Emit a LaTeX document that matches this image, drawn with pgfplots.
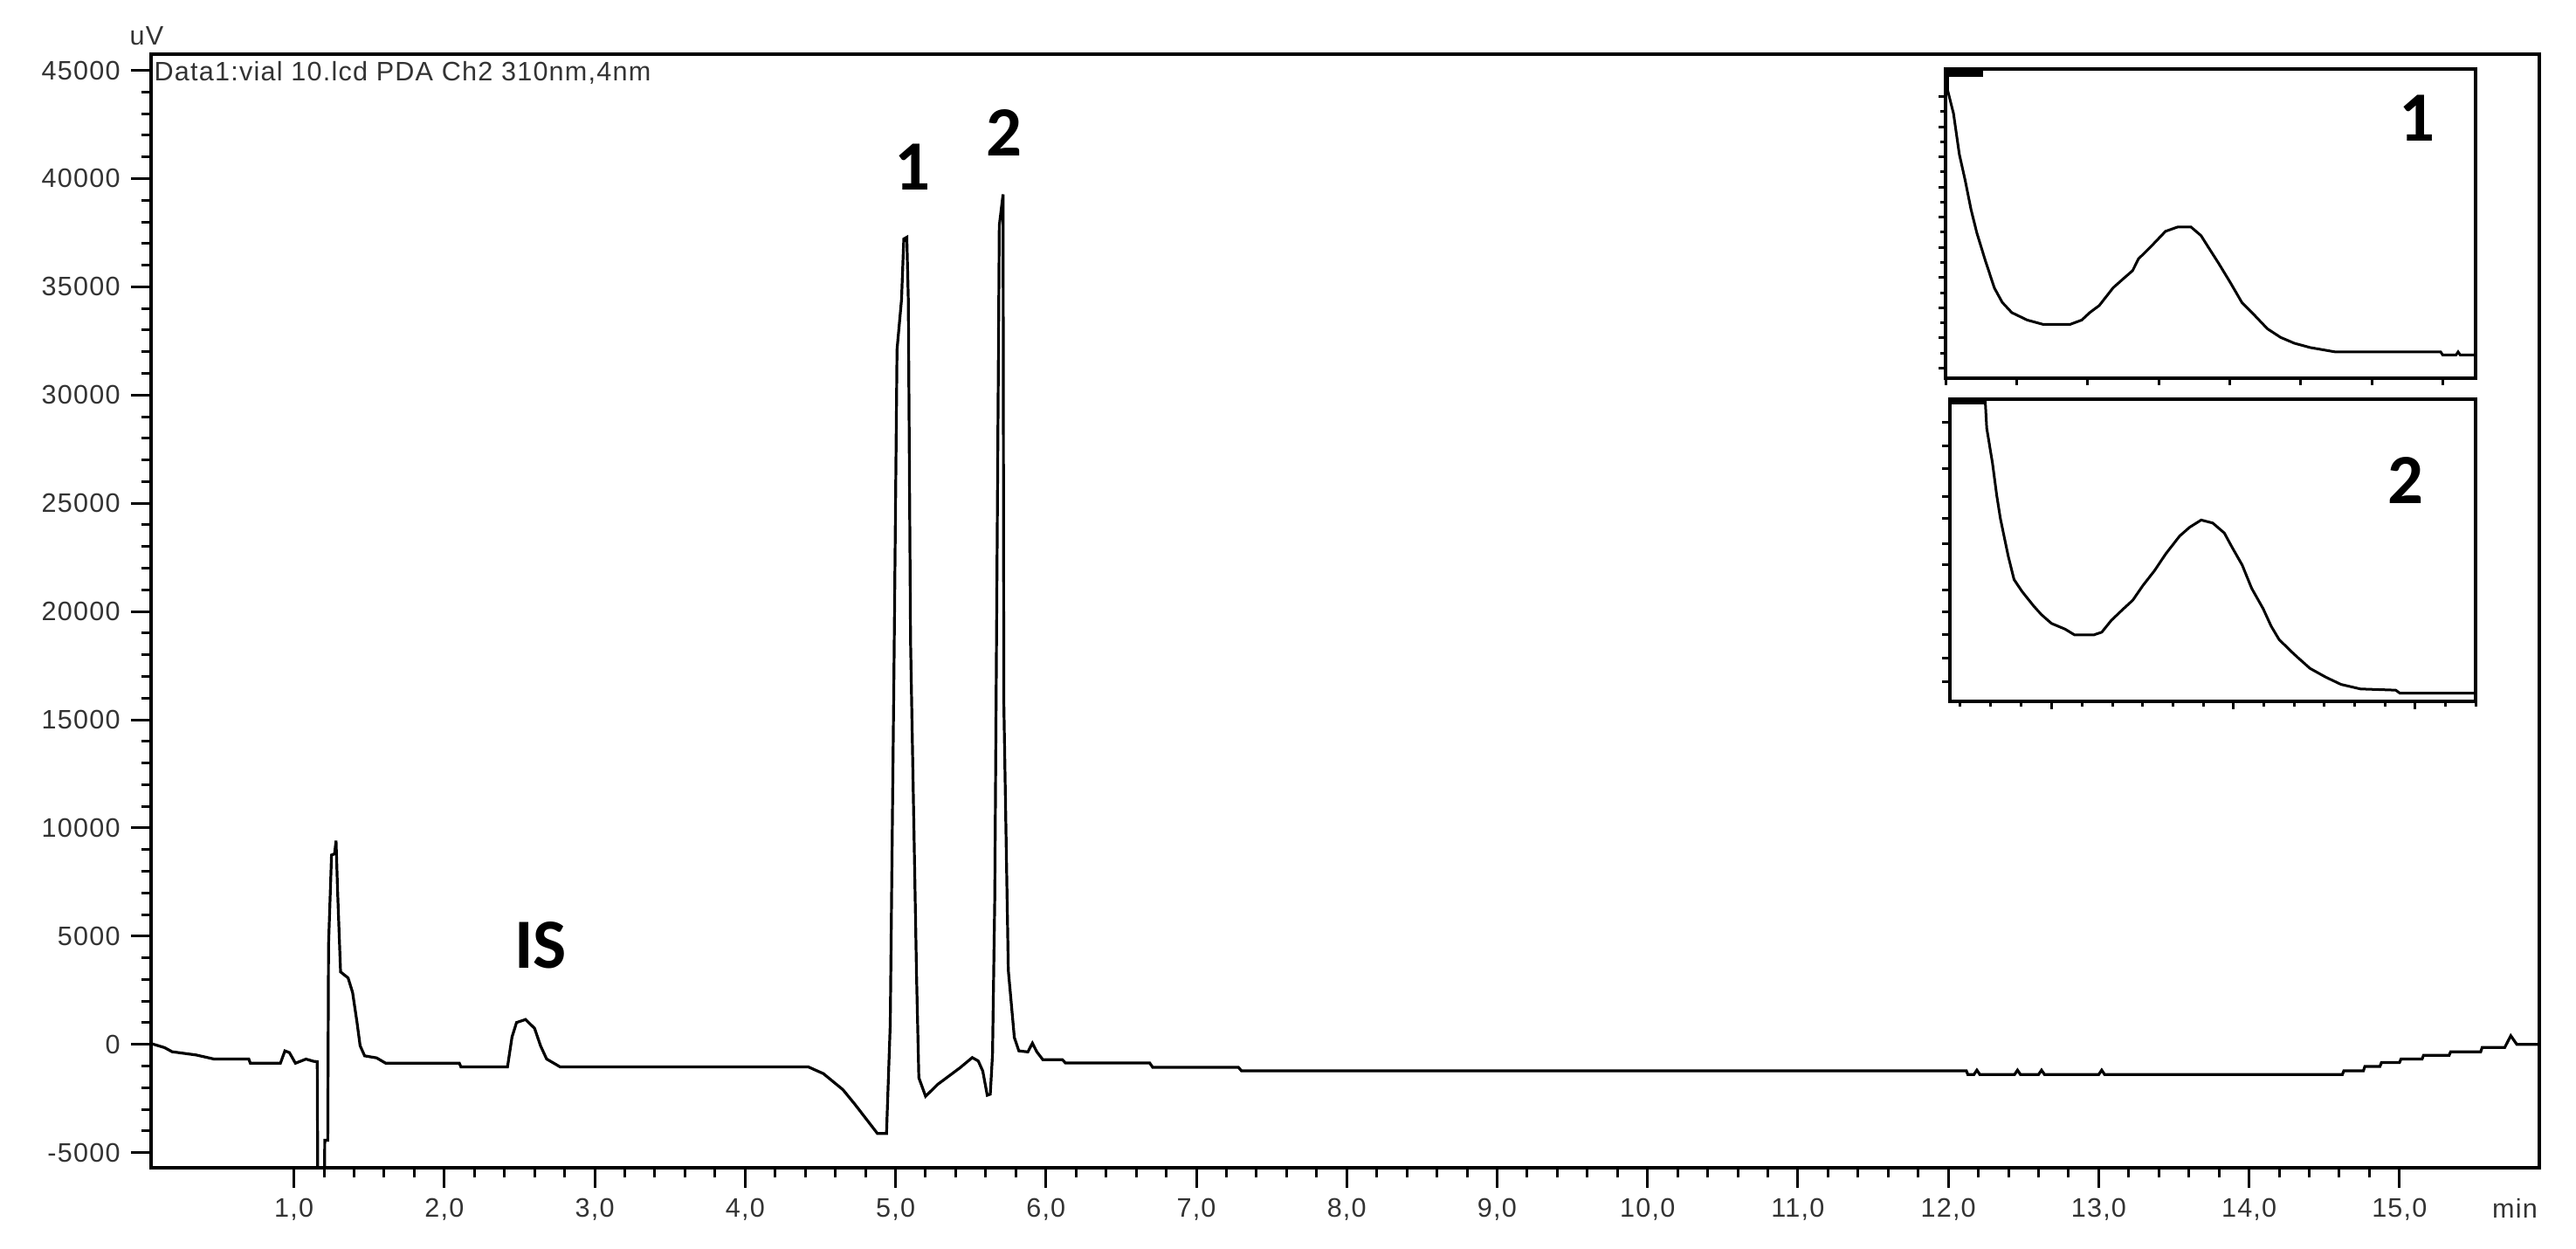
\documentclass[border=0pt]{standalone}
\usepackage{fontspec}
\setmainfont{Liberation Sans}
\newfontfamily\tickfamily[LetterSpace=4]{Liberation Sans}
\newfontfamily\lblfamily{Carlito}
\usepackage{pgfplots}
\pgfplotsset{compat=1.18}
\newcommand{\tickfont}{\tickfamily\fontsize{8.7}{10}\selectfont}
\newcommand{\pkfont}{\lblfamily\bfseries\fontsize{23}{26}\selectfont}

\begin{document}
\begin{tikzpicture}[x=1mm,y=1mm]
\path[use as bounding box] (0,0) rectangle (295,143);

% main chromatogram
\begin{axis}[
  name=main, at={(17.3mm,9.3mm)}, anchor=south west,
  scale only axis, width=273.5mm, height=127.5mm,
  xmin=0.05, xmax=15.93, ymin=-5700, ymax=45750,
  xtick={1,...,15}, ytick={-5000,0,...,45000},
  minor x tick num=4, minor y tick num=4,
  tick align=outside, xtick pos=bottom, ytick pos=left,
  major tick length=2.3mm, minor tick length=1.15mm,
  axis line style={line width=0.4mm},
  every tick/.style={black, line width=0.3mm},
  scaled ticks=false,
  /pgf/number format/assume math mode=true,
  tick label style={font=\tickfont, text=black!80},
  x tick label style={/pgf/number format/.cd, use comma, fixed, fixed zerofill, precision=1},
  y tick label style={/pgf/number format/.cd, fixed, precision=0, 1000 sep={}},
]
\addplot[black, line width=0.32mm, sharp plot] coordinates {
(0.05,40) (0.14,-150) (0.19,-340) (0.35,-490) (0.47,-680) (0.70,-680) (0.71,-870)
(0.91,-870) (0.94,-300) (0.97,-380) (1.01,-870) (1.08,-680) (1.13,-780) (1.155,-800)
(1.16,-9000) (1.20,-9000) (1.205,-4430) (1.225,-4430) (1.23,4580) (1.25,8750)
(1.27,8800) (1.28,9410) (1.29,7140) (1.31,3350) (1.36,3070) (1.39,2400) (1.42,985)
(1.44,-60) (1.47,-530) (1.55,-625) (1.61,-870) (2.10,-870) (2.11,-1040) (2.42,-1040)
(2.45,340) (2.48,1010) (2.54,1150) (2.60,740) (2.64,-70) (2.68,-675) (2.77,-1040)
(4.42,-1040) (4.52,-1350) (4.65,-2090) (4.73,-2770) (4.82,-3580) (4.88,-4120)
(4.94,-4120) (4.965,940) (4.99,17520) (5.01,32100) (5.04,34420) (5.055,37210)
(5.075,37290) (5.085,34420) (5.10,18610) (5.14,3110) (5.155,-1540) (5.20,-2400)
(5.28,-1850) (5.43,-1075) (5.51,-610) (5.55,-765) (5.58,-1230) (5.61,-2350)
(5.63,-2300) (5.645,-455) (5.66,6830) (5.69,37830) (5.715,39270) (5.72,15820)
(5.75,3420) (5.79,320) (5.82,-300) (5.88,-347) (5.91,56) (5.94,-350) (5.98,-710)
(6.11,-710) (6.13,-858) (6.69,-858) (6.71,-1060) (7.28,-1060) (7.30,-1221)
(12.12,-1221) (12.13,-1396) (12.17,-1396) (12.19,-1190) (12.21,-1396) (12.44,-1396)
(12.46,-1190) (12.48,-1396) (12.60,-1396) (12.62,-1190) (12.64,-1396) (13.00,-1396)
(13.02,-1190) (13.04,-1396) (14.62,-1396) (14.63,-1220) (14.76,-1220) (14.77,-1018)
(14.87,-1018) (14.88,-840) (15.00,-840) (15.01,-680) (15.15,-680) (15.16,-505)
(15.33,-505) (15.34,-343) (15.54,-343) (15.55,-140) (15.70,-140) (15.74,400)
(15.78,0) (15.93,0)
};
\node[font=\pkfont] at (axis cs:2.64,4560) {IS};
\node[font=\pkfont] at (axis cs:5.11,40520) {1};
\node[font=\pkfont] at (axis cs:5.72,42130) {2};
\end{axis}

\node[font=\tickfont, text=black!80] at (16.8,138.9) {uV};
\node[font=\tickfont, text=black!80, anchor=north west, inner sep=0]
  at ([xshift=0.3mm, yshift=-0.8mm]main.north west) {Data1:vial 10.lcd PDA Ch2 310nm,4nm};
\node[font=\tickfont, text=black!80, anchor=north, inner sep=0.333em]
  at ([xshift=270.7mm, yshift=-2.3mm]main.south west) {min};

% inset spectrum of peak 1
\begin{axis}[
  at={(222.8mm,99.7mm)}, anchor=south west,
  scale only axis, width=60.7mm, height=35.4mm,
  xmin=0, xmax=1, ymin=0, ymax=1,
  axis line style={line width=0.35mm},
  tick align=outside, xtick pos=bottom, ytick pos=left,
  xtick={0,0.134,0.268,0.402,0.536,0.67,0.804,0.938},
  ytick={0.033,0.1305,0.228,0.3255,0.423,0.5205,0.618,0.7155,0.813,0.9105},
  minor y tick num=1,
  major tick length=0.8mm, minor tick length=0.6mm,
  every tick/.style={black, line width=0.3mm},
  xticklabels={}, yticklabels={},
]
\addplot[black, line width=0.3mm, sharp plot] coordinates {
(0.004,1.0) (0.004,0.931) (0.015,0.856) (0.026,0.724) (0.037,0.64) (0.048,0.546)
(0.059,0.47) (0.074,0.386) (0.092,0.292) (0.107,0.245) (0.125,0.212) (0.154,0.188)
(0.184,0.174) (0.235,0.174) (0.257,0.188) (0.272,0.212) (0.29,0.235) (0.316,0.292)
(0.331,0.315) (0.353,0.348) (0.364,0.386) (0.386,0.423) (0.415,0.475) (0.438,0.489)
(0.463,0.489) (0.482,0.461) (0.496,0.423) (0.515,0.372) (0.537,0.31) (0.559,0.245)
(0.581,0.207) (0.607,0.16) (0.632,0.132) (0.658,0.113) (0.688,0.099) (0.735,0.085)
(0.934,0.085) (0.938,0.075) (0.963,0.075) (0.967,0.085) (0.971,0.075) (1.0,0.075)
};
\fill[black] (rel axis cs:0,0.975) rectangle (rel axis cs:0.07,1);
\node[font=\pkfont] at (rel axis cs:0.89,0.842) {1};
\end{axis}

% inset spectrum of peak 2
\begin{axis}[
  at={(223.3mm,62.7mm)}, anchor=south west,
  scale only axis, width=60.2mm, height=34.6mm,
  xmin=0, xmax=1, ymin=0, ymax=1,
  axis line style={line width=0.35mm},
  tick align=outside, xtick pos=bottom, ytick pos=left,
  xtick={0.193,0.539,0.885},
  minor xtick={0.019,0.077,0.135,0.251,0.309,0.366,0.424,0.482,0.597,0.655,0.712,0.770,0.828,0.943,1.0},
  ytick={0.066,0.143,0.22,0.297,0.369,0.451,0.523,0.605,0.677,0.769,0.846,0.923},
  major tick length=0.9mm, minor tick length=0.6mm,
  every tick/.style={black, line width=0.3mm},
  xticklabels={}, yticklabels={},
]
\addplot[black, line width=0.3mm, sharp plot] coordinates {
(0.067,1.0) (0.07,0.904) (0.081,0.788) (0.089,0.682) (0.096,0.605) (0.104,0.538)
(0.111,0.48) (0.122,0.403) (0.137,0.364) (0.159,0.316) (0.174,0.287) (0.193,0.258)
(0.219,0.239) (0.237,0.22) (0.274,0.22) (0.289,0.229) (0.307,0.268) (0.33,0.306)
(0.348,0.335) (0.367,0.383) (0.389,0.432) (0.411,0.489) (0.437,0.547) (0.456,0.576)
(0.478,0.6) (0.5,0.59) (0.522,0.557) (0.537,0.509) (0.556,0.451) (0.574,0.374)
(0.596,0.306) (0.611,0.249) (0.626,0.205) (0.648,0.167) (0.663,0.143) (0.685,0.109)
(0.715,0.08) (0.744,0.056) (0.781,0.041) (0.848,0.037) (0.856,0.027) (1.0,0.027)
};
\fill[black] (rel axis cs:0,0.982) rectangle (rel axis cs:0.067,1);
\node[font=\pkfont] at (rel axis cs:0.867,0.73) {2};
\end{axis}
\end{tikzpicture}
\end{document}
